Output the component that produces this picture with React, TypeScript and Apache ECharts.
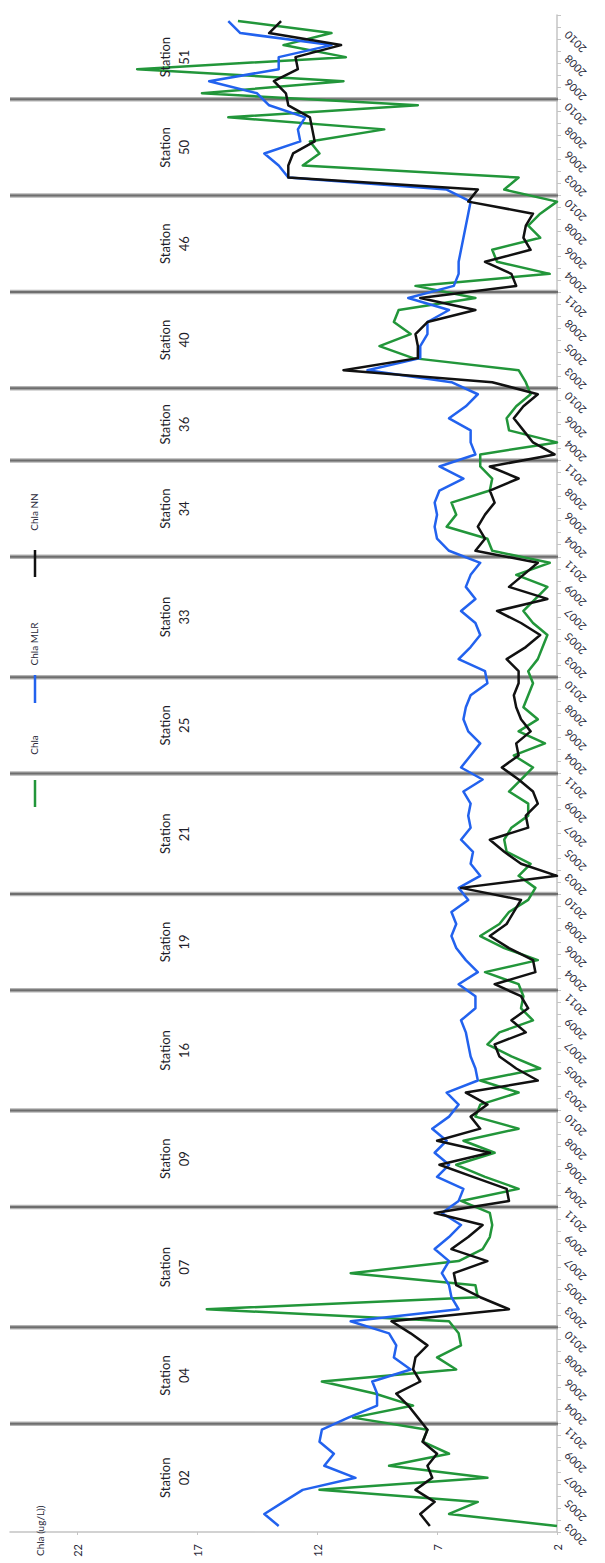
import React, { useEffect, useRef } from "react";
import * as echarts from "echarts";

// Stations (bottom to top in the rotated picture)
const stations = ["02", "04", "07", "09", "16", "19", "21", "25", "33", "34", "36", "40", "46", "50", "51"];

// Years sampled at each station
const stationYears: number[][] = [
  [2003, 2004, 2005, 2006, 2007, 2008, 2009, 2010, 2011],
  [2003, 2004, 2005, 2006, 2007, 2008, 2009, 2010],
  [2002, 2003, 2004, 2005, 2006, 2007, 2008, 2009, 2010, 2011],
  [2003, 2004, 2005, 2006, 2007, 2008, 2009, 2010],
  [2002, 2003, 2004, 2005, 2006, 2007, 2008, 2009, 2010, 2011],
  [2003, 2004, 2005, 2006, 2007, 2008, 2009, 2010],
  [2002, 2003, 2004, 2005, 2006, 2007, 2008, 2009, 2010, 2011],
  [2003, 2004, 2005, 2006, 2007, 2008, 2009, 2010],
  [2002, 2003, 2004, 2005, 2006, 2007, 2008, 2009, 2010, 2011],
  [2003, 2004, 2005, 2006, 2007, 2008, 2010, 2011],
  [2003, 2004, 2005, 2006, 2008, 2010],
  [2002, 2003, 2004, 2005, 2007, 2008, 2010, 2011],
  [2003, 2004, 2005, 2006, 2007, 2008, 2009, 2010],
  [2002, 2003, 2005, 2006, 2007, 2008, 2009, 2010],
  [2005, 2006, 2007, 2008, 2009, 2010, 2011],
];

// Chla (observed)
const chlaByStation: number[][] = [
  [2.0, 6.5, 5.3, 11.9, 4.9, 9.0, 6.5, 7.6, 7.4],
  [10.5, 8.0, 9.6, 11.8, 6.2, 7.0, 6.0, 6.1],
  [6.5, 16.6, 5.3, 5.4, 10.6, 6.1, 5.1, 4.8, 4.7, 4.8],
  [6.0, 3.6, 5.0, 6.2, 4.6, 5.9, 3.6, 5.4],
  [5.2, 3.6, 5.2, 2.7, 3.9, 4.9, 4.4, 3.0, 3.5, 3.4],
  [3.6, 5.0, 2.8, 4.2, 5.2, 4.4, 4.0, 3.2],
  [2.9, 3.6, 3.1, 4.1, 4.2, 3.9, 3.2, 3.2, 4.0, 3.5],
  [3.0, 3.8, 2.5, 3.6, 2.8, 3.4, 3.2, 3.0],
  [3.2, 2.8, 2.6, 2.4, 3.0, 3.4, 2.9, 2.4, 3.7, 2.3],
  [4.7, 4.9, 6.6, 6.2, 6.4, 4.8, 4.7, 5.2],
  [5.2, 2.0, 4.0, 4.1, 3.7, 3.1],
  [3.3, 3.6, 8.0, 9.4, 8.1, 8.8, 8.6, 5.4],
  [7.9, 2.3, 4.5, 4.7, 2.7, 3.2, 2.7, 2.0],
  [4.2, 3.6, 12.6, 11.9, 12.3, 9.2, 15.7, 7.8],
  [16.8, 10.9, 19.5, 10.8, 13.4, 11.4, 15.3],
];

// Chla MLR
const mlrByStation: number[][] = [
  [13.6, 14.2, 13.4, 12.6, 10.4, 11.7, 11.3, 11.9, 11.8],
  [10.7, 9.5, 9.5, 9.7, 8.1, 8.8, 8.7, 9.0],
  [10.6, 6.1, 6.4, 6.5, 6.8, 6.5, 7.1, 6.5, 6.0, 6.8],
  [6.1, 5.9, 7.0, 6.5, 7.1, 6.6, 7.2, 6.5],
  [6.1, 6.6, 5.3, 5.4, 5.6, 5.7, 5.8, 6.0, 5.4, 5.4],
  [6.1, 5.3, 5.8, 6.2, 6.4, 6.2, 6.4, 5.7],
  [6.1, 5.2, 5.6, 5.5, 6.0, 5.6, 5.7, 5.6, 5.9, 5.1],
  [6.0, 5.6, 5.2, 5.7, 5.9, 5.8, 5.6, 4.9],
  [5.0, 6.1, 5.6, 5.2, 5.4, 6.0, 5.4, 5.8, 5.6, 5.2],
  [6.5, 7.0, 7.1, 7.0, 7.1, 6.9, 5.9, 6.9],
  [5.4, 5.6, 5.6, 6.5, 5.8, 5.3],
  [6.4, 9.9, 7.7, 7.7, 7.4, 7.4, 6.5, 8.2],
  [6.3, 6.1, 6.1, 6.0, 5.9, 5.8, 5.7, 5.6],
  [6.6, 13.2, 13.6, 14.2, 12.7, 12.8, 12.5, 14.0],
  [14.5, 16.5, 13.6, 13.6, 11.4, 15.2, 15.7],
];

// Chla NN
const nnByStation: number[][] = [
  [7.3, 7.7, 7.1, 7.9, 7.2, 7.4, 7.0, 7.6, 7.4],
  [7.8, 8.2, 8.7, 7.7, 8.0, 7.9, 7.4, 8.1],
  [8.9, 4.0, 5.2, 6.2, 6.3, 4.9, 6.4, 5.7, 5.1, 7.1],
  [4.0, 4.1, 5.5, 6.9, 4.8, 7.0, 5.2, 5.6],
  [4.9, 5.8, 2.8, 3.7, 4.4, 4.6, 3.3, 3.9, 3.2, 3.5],
  [4.6, 2.9, 3.0, 4.0, 4.8, 4.1, 3.8, 3.5],
  [6.0, 2.0, 3.5, 4.2, 4.8, 3.2, 3.3, 2.8, 3.0, 3.6],
  [4.3, 3.6, 3.7, 3.1, 3.5, 3.7, 3.8, 3.6],
  [3.6, 4.1, 3.3, 2.7, 3.5, 4.5, 2.4, 4.0, 3.4, 2.8],
  [5.4, 5.0, 5.3, 5.0, 4.6, 4.8, 3.6, 4.8],
  [2.1, 3.0, 3.4, 3.8, 3.4, 2.8],
  [4.7, 10.9, 7.8, 7.8, 7.9, 7.4, 5.4, 7.7],
  [3.7, 3.9, 5.0, 3.1, 3.4, 3.3, 3.0, 5.7],
  [5.3, 13.2, 13.2, 13.0, 12.1, 12.2, 12.3, 13.2],
  [13.3, 13.8, 12.8, 12.9, 11.0, 14.0, 13.5],
];

const valueTicks = [2, 7, 12, 17, 22];
const seriesNames = ["Chla", "Chla MLR", "Chla NN"];

const COLORS = { chla: "#22963a", mlr: "#2262ee", nn: "#111111" };
const FONT = "Lato, 'Open Sans', sans-serif";

export default function App() {
  const ref = useRef<HTMLDivElement>(null);

  useEffect(() => {
    const el = ref.current;
    if (!el) return;
    const chart = echarts.init(el, null, { renderer: "svg" });

    const categories: string[] = [];
    stations.forEach((s, k) => stationYears[k].forEach((y) => categories.push(s + "-" + y)));
    const toPairs = (arr: number[][]) => arr.flat().map((v, i) => [v, i]);

    chart.setOption({
      animation: false,
      backgroundColor: "#ffffff",
      grid: { left: 10, right: 48, top: 15, bottom: 31, containLabel: false },
      xAxis: {
        type: "value",
        inverse: true,
        position: "bottom",
        min: 2,
        max: 24.8,
        interval: 5,
        splitLine: { show: false },
        axisLine: { show: true, lineStyle: { color: "#c4c4c4", width: 1.5 } },
        axisTick: { show: true, length: 3, lineStyle: { color: "#c4c4c4" } },
        axisLabel: {
          rotate: 90,
          margin: 12,
          showMaxLabel: false,
          fontSize: 11,
          fontFamily: FONT,
          color: "#2a2a3a",
          formatter: (v: number) => (valueTicks.includes(Math.round(v * 10) / 10) ? String(v) : ""),
        },
      },
      yAxis: {
        type: "category",
        position: "right",
        data: categories,
        boundaryGap: true,
        axisLine: { show: true, lineStyle: { color: "#c4c4c4", width: 1.5 } },
        axisTick: { show: true, interval: 0, length: 4, lineStyle: { color: "#c4c4c4" } },
        axisLabel: {
          interval: 1,
          rotate: 135,
          margin: 9,
          fontSize: 11,
          fontFamily: FONT,
          color: "#2a2a3a",
          formatter: (v: string) => v.split("-")[1],
        },
        splitLine: { show: false },
      },
      series: [
        {
          name: seriesNames[0],
          type: "line",
          data: toPairs(chlaByStation),
          symbol: "none",
          lineStyle: { color: COLORS.chla, width: 2.5, join: "round" },
          itemStyle: { color: COLORS.chla },
          z: 3,
        },
        {
          name: seriesNames[1],
          type: "line",
          data: toPairs(mlrByStation),
          symbol: "none",
          lineStyle: { color: COLORS.mlr, width: 2.5, join: "round" },
          itemStyle: { color: COLORS.mlr },
          z: 4,
        },
        {
          name: seriesNames[2],
          type: "line",
          data: toPairs(nnByStation),
          symbol: "none",
          lineStyle: { color: COLORS.nn, width: 2.5, join: "round" },
          itemStyle: { color: COLORS.nn },
          z: 5,
        },
      ],
    });

    const yOf = (i: number) => chart.convertToPixel({ yAxisIndex: 0 }, i) as number;
    const xLeft = 10;
    const xRight = 558;
    const graphics: any[] = [];
    let start = 0;
    stations.forEach((s, k) => {
      const n = stationYears[k].length;
      const end = start + n - 1;
      const lowEdge = start === 0 ? yOf(0) + (yOf(0) - yOf(1)) / 2 : (yOf(start - 1) + yOf(start)) / 2;
      const highEdge =
        end === categories.length - 1 ? yOf(end) - (yOf(end - 1) - yOf(end)) / 2 : (yOf(end) + yOf(end + 1)) / 2;
      if (end < categories.length - 1) {
        graphics.push({
          type: "line",
          z: 1,
          shape: { x1: xLeft, y1: highEdge, x2: xRight, y2: highEdge },
          style: { stroke: "#b4b4b4", lineWidth: 4.5 },
        });
        graphics.push({
          type: "line",
          z: 2,
          shape: { x1: xLeft, y1: highEdge, x2: xRight, y2: highEdge },
          style: { stroke: "#6e6e6e", lineWidth: 2 },
        });
      }
      graphics.push({
        type: "text",
        z: 10,
        x: 174,
        y: (lowEdge + highEdge) / 2,
        rotation: Math.PI / 2,
        style: {
          text: "Station\n" + s,
          fontSize: 13,
          fontFamily: FONT,
          fill: "#1e1e2a",
          align: "center",
          verticalAlign: "middle",
          lineHeight: 19,
        },
      });
      start = end + 1;
    });

    // Legend (rotated)
    const legendItems = [
      { name: seriesNames[0], color: COLORS.chla, y1: 780, y2: 807, ty: 745 },
      { name: seriesNames[1], color: COLORS.mlr, y1: 675, y2: 703, ty: 644 },
      { name: seriesNames[2], color: COLORS.nn, y1: 550, y2: 577, ty: 512 },
    ];
    legendItems.forEach((it) => {
      graphics.push({
        type: "line",
        z: 10,
        shape: { x1: 35, y1: it.y1, x2: 35, y2: it.y2 },
        style: { stroke: it.color, lineWidth: 2.5 },
      });
      graphics.push({
        type: "text",
        z: 10,
        x: 34,
        y: it.ty,
        rotation: Math.PI / 2,
        style: {
          text: it.name,
          fontSize: 10,
          fontFamily: FONT,
          fill: "#2a2a3a",
          align: "center",
          verticalAlign: "middle",
        },
      });
    });

    // Value axis title
    graphics.push({
      type: "text",
      z: 10,
      x: 40,
      y: 1556,
      rotation: Math.PI / 2,
      style: {
        text: "Chla (ug/L))",
        fontSize: 10,
        fontFamily: FONT,
        fill: "#2a2a3a",
        align: "left",
        verticalAlign: "middle",
      },
    });

    chart.setOption({ graphic: graphics });

    return () => {
      chart.dispose();
    };
  }, []);

  return (
    <div
      ref={ref}
      style={{ position: "absolute", left: 0, top: 0, width: 605, height: 1563, background: "#fff" }}
    />
  );
}
